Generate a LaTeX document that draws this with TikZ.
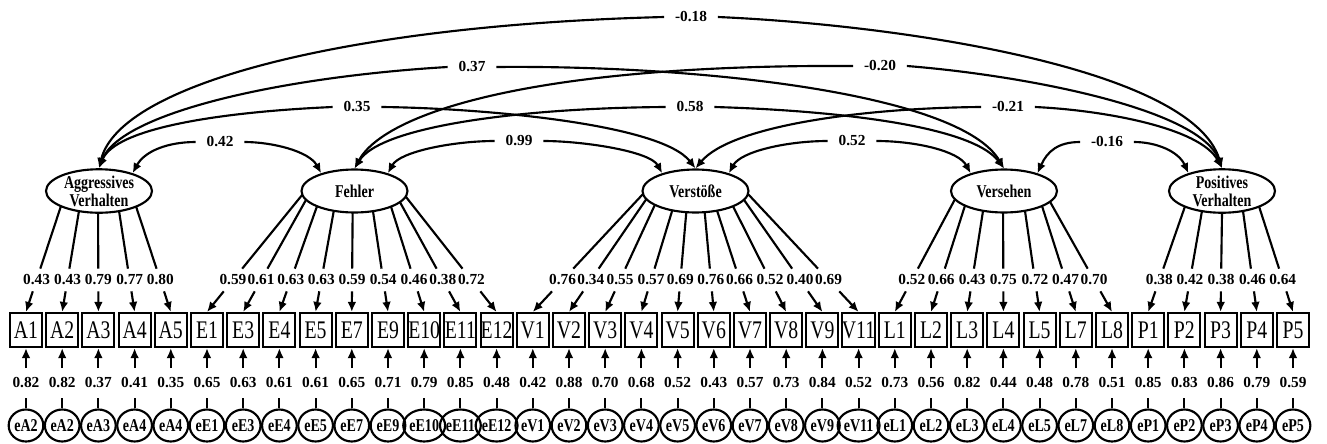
\documentclass[tikz,border=0pt]{standalone}
\usepackage{fontspec}
\setmainfont{Liberation Serif}
\newfontfamily\condf[FakeStretch=0.78]{Liberation Serif}
\usetikzlibrary{arrows.meta,shapes.geometric,calc}
\tikzset{
  ln/.style={line width=1.6pt},
  arr/.style={-{Latex[length=7.5pt,width=6.5pt]}},
  rarr/.style={{Latex[length=7.5pt,width=6.5pt]}-},
  obs/.style={draw,line width=1.6pt,minimum width=24pt,minimum height=25.5pt,inner sep=0pt,font=\condf\fontsize{19}{19}\selectfont},
  errc/.style={draw,ellipse,line width=1.6pt,minimum width=26pt,minimum height=24pt,inner sep=0pt,font=\condf\bfseries\fontsize{13.5}{14}\selectfont},
  lat/.style={draw,ellipse,line width=1.6pt,minimum width=79.5pt,minimum height=32.25pt,inner sep=0pt,align=center,font=\condf\bfseries\fontsize{13.5}{13.5}\selectfont},
  num/.style={outer sep=0pt,font=\bfseries\fontsize{11.5}{12}\selectfont},
  ldl/.style={num,inner xsep=1pt,inner ysep=4.6pt},
  erl/.style={num,inner xsep=1pt,inner ysep=7.3pt},
  cvl/.style={num,inner xsep=8.2pt,inner ysep=2pt},
}
\begin{document}
\begin{tikzpicture}[x=0.75pt,y=-0.75pt]
\fill[white] (0,0) rectangle (1327,443);
\useasboundingbox (0,0) rectangle (1327,443);
% latent variables
\node[lat] (AV) at (99,191) {Aggressives\\Verhalten};
\node[lat] (FE) at (354.5,191) {Fehler};
\node[lat] (VS) at (695.5,191) {Verstöße};
\node[lat] (VE) at (1004,191) {Versehen};
\node[lat] (PV) at (1222,191) {Positives\\Verhalten};
% indicators, loadings, errors
\foreach \bx/\lat/\tp/\lv/\et/\ev [count=\i from 0] in {
A1/AV/135.8/0.43/eA2/0.82, A2/AV/112.2/0.43/eA2/0.82, A3/AV/91/0.79/eA3/0.37,
A4/AV/67.8/0.77/eA4/0.41, A5/AV/45.7/0.80/eA4/0.35,
E1/FE/170/0.59/eE1/0.65, E3/FE/156/0.61/eE3/0.63, E4/FE/135/0.63/eE4/0.61,
E5/FE/113/0.63/eE5/0.61, E7/FE/92/0.59/eE7/0.65, E9/FE/69.6/0.54/eE9/0.71,
E10/FE/46.5/0.46/eE10/0.79, E11/FE/31/0.38/eE11/0.85, E12/FE/15/0.72/eE12/0.48,
V1/VS/172/0.76/eV1/0.42, V2/VS/158/0.34/eV2/0.88, V3/VS/140/0.55/eV3/0.70,
V4/VS/116/0.57/eV4/0.68, V5/VS/100/0.69/eV5/0.52, V6/VS/80/0.76/eV6/0.43,
V7/VS/66/0.66/eV7/0.57, V8/VS/45/0.52/eV8/0.73, V9/VS/24/0.40/eV9/0.84,
V11/VS/8/0.69/eV11/0.52,
L1/VE/157.6/0.52/eL1/0.73, L2/VE/137.4/0.66/eL2/0.56, L3/VE/113.3/0.43/eL3/0.82,
L4/VE/91/0.75/eL4/0.44, L5/VE/66.7/0.72/eL5/0.48, L7/VE/44.2/0.47/eL7/0.78,
L8/VE/29.8/0.70/eL8/0.51,
P1/PV/134.3/0.38/eP1/0.85, P2/PV/112.2/0.42/eP2/0.83, P3/PV/90/0.38/eP3/0.86,
P4/PV/66.7/0.46/eP4/0.79, P5/PV/45.7/0.64/eP5/0.59}{
  \node[obs] (\bx) at ({26+36.2*\i},330) {\bx};
  \node[errc] (c\bx) at ({26+36.2*\i},425.5) {\et};
  \node[erl] (M\bx) at ({26+36.2*\i},383) {\ev};
  \draw[ln] (c\bx) -- (M\bx);
  \draw[ln,arr] (M\bx) -- (\bx.south);
  \coordinate (s\bx) at ($(\lat)+({53*cos(\tp)},{21.5*sin(\tp)})$);
  \path let \p1=(s\bx), \p2=(\bx.north) in
    ({\x1+(\x2-\x1)*(-210pt-(\y1))/((\y2)-(\y1))},-210pt) coordinate (q\bx);
  \node[ldl] (L\bx) at (q\bx) {\lv};
  \draw[ln] (s\bx) -- (L\bx);
  \draw[ln,arr] (L\bx) -- (\bx.north);
}
% covariances
\node[cvl] (c1) at (220,142) {0.42};
\draw[ln,rarr] (AV.28) .. controls +(12,-22) and +(-28,0) .. (c1.west);
\draw[ln,arr] (c1.east) .. controls +(28,0) and +(-12,-22) .. (FE.152);
\node[cvl] (c2) at (519,141) {0.99};
\draw[ln,rarr] (FE.28) .. controls +(12,-22) and +(-40,0) .. (c2.west);
\draw[ln,arr] (c2.east) .. controls +(40,0) and +(-12,-22) .. (VS.152);
\node[cvl] (c3) at (852,141) {0.52};
\draw[ln,rarr] (VS.28) .. controls +(12,-22) and +(-40,0) .. (c3.west);
\draw[ln,arr] (c3.east) .. controls +(40,0) and +(-12,-22) .. (VE.152);
\node[cvl] (c4) at (1107,142) {-0.16};
\draw[ln,rarr] (VE.28) .. controls +(10,-22) and +(-22,0) .. (c4.west);
\draw[ln,arr] (c4.east) .. controls +(22,0) and +(-10,-22) .. (PV.152);
\node[cvl] (c5) at (357,107) {0.35};
\draw[ln,rarr] (AV.north) .. controls +(16,-40) and +(-113,5) .. (c5.west);
\draw[ln,arr] (c5.east) .. controls +(98,1) and +(-35,-45) .. (VS.north);
\node[cvl] (c6) at (690,107) {0.58};
\draw[ln,rarr] (FE.north) .. controls +(26,-42) and +(-146,1) .. (c6.west);
\draw[ln,arr] (c6.east) .. controls +(106,3) and +(-34,-45) .. (VE.north);
\node[cvl] (c7) at (1008,107) {-0.21};
\draw[ln,rarr] (VS.north) .. controls +(35,-42) and +(-122,1) .. (c7.west);
\draw[ln,arr] (c7.east) .. controls +(66,3) and +(-22,-41) .. (PV.north);
\node[cvl] (c8) at (472,67) {0.37};
\draw[ln,rarr] (AV.north) .. controls +(21,-55) and +(-168,10) .. (c8.west);
\draw[ln,arr] (c8.east) .. controls +(204,-2) and +(-44,-75) .. (VE.north);
\node[cvl] (c9) at (880,66) {-0.20};
\draw[ln,rarr] (FE.north) .. controls +(31,-57) and +(-314,-2) .. (c9.west);
\draw[ln,arr] (c9.east) .. controls +(114,9) and +(-22,-60) .. (PV.north);
\node[cvl] (c10) at (691,17) {-0.18};
\draw[ln,rarr] (AV.north) .. controls +(21,-85) and +(-315,8) .. (c10.west);
\draw[ln,arr] (c10.east) .. controls +(183,8) and +(-30,-100) .. (PV.north);
\end{tikzpicture}
\end{document}
